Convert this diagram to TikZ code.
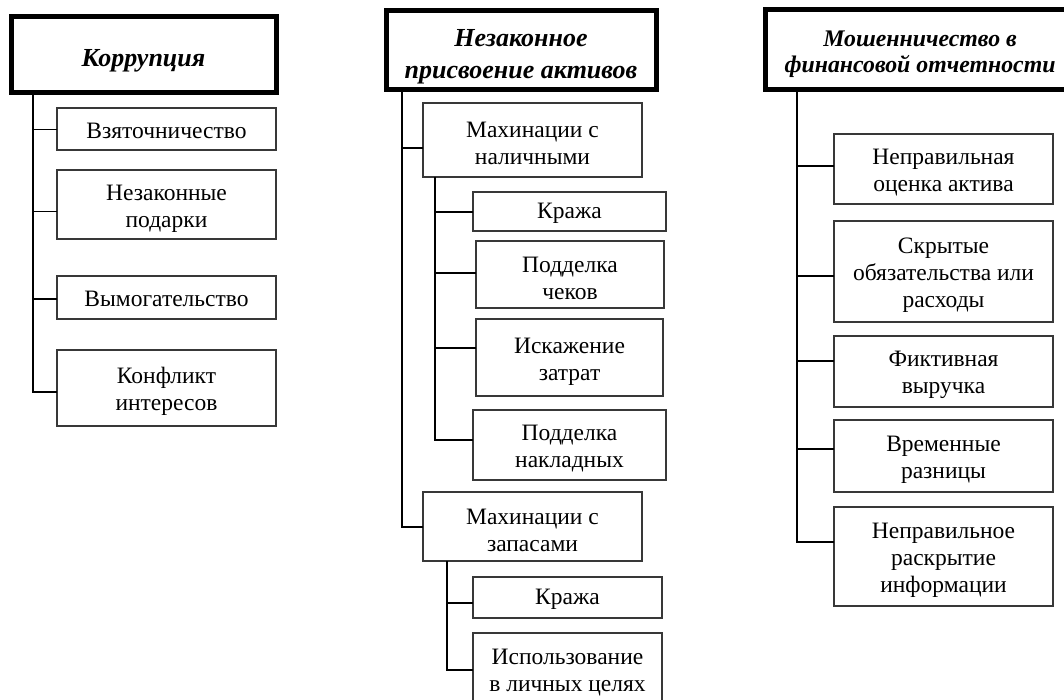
\documentclass[tikz,border=0pt]{standalone}
\usepackage{fontspec}
\setmainfont{Liberation Serif}
\newcommand\hstrut[1]{\rule{0pt}{#1}}
\tikzset{
  box/.style={draw=black!78, line width=2.6pt, fill=white, inner sep=0pt, outer sep=0pt,
    align=center, font=\fontsize{23.5}{27}\selectfont},
  head/.style={draw=black, line width=5pt, fill=white, inner sep=0pt, outer sep=0pt,
    align=center, font=\fontsize{26}{32}\selectfont\bfseries\itshape},
  link/.style={draw=black, line width=1.4pt}
}
\begin{document}
\begin{tikzpicture}[x=1pt,y=-1pt]
\useasboundingbox (0,0) rectangle (1064,700);
% Column 1
\node[head, minimum width=265pt, minimum height=76pt] (h1) at (143.5,55) {\hstrut{29pt}Коррупция};
\node[box, minimum width=219pt, minimum height=42pt] (a1) at (166.5,129) {\hstrut{19pt}Взяточничество};
\node[box, minimum width=219pt, minimum height=69pt] (a2) at (166.5,204.5) {\hstrut{24pt}Незаконные\\подарки};
\node[box, minimum width=219pt, minimum height=43pt] (a3) at (166.5,297.5) {\hstrut{19pt}Вымогательство};
\node[box, minimum width=219pt, minimum height=76pt] (a4) at (166.5,388) {\hstrut{23pt}Конфликт\\интересов};
\coordinate (t1) at (33,93);
\coordinate (pa1) at ([yshift=-0.5pt]a1.west);
\coordinate (pa2) at ([yshift=-7pt]a2.west);
\coordinate (pa3) at ([yshift=-1.5pt]a3.west);
\coordinate (pa4) at ([yshift=-4pt]a4.west);
\draw[link] (t1) |- (pa4);
\draw[link] (pa1) -- (pa1 -| t1);
\draw[link] (pa2) -- (pa2 -| t1);
\draw[link] (pa3) -- (pa3 -| t1);
% Column 2
\node[head, minimum width=270pt, minimum height=79pt] (h2) at (521,50.5) {\hstrut{29pt}Незаконное\\присвоение активов};
\node[box, minimum width=219pt, minimum height=74pt] (m1) at (532.5,140) {\hstrut{23pt}Махинации с\\наличными};
\node[box, minimum width=193pt, minimum height=39pt] (k1) at (569.5,211.5) {\hstrut{19pt}Кража};
\node[box, minimum width=188pt, minimum height=67pt] (p1) at (570,274.5) {\hstrut{23pt}Подделка\\чеков};
\node[box, minimum width=187pt, minimum height=77pt] (i1) at (569.5,357.5) {\hstrut{23pt}Искажение\\затрат};
\node[box, minimum width=193pt, minimum height=70pt] (n1) at (569.5,445) {\hstrut{23pt}Подделка\\накладных};
\node[box, minimum width=219pt, minimum height=69pt] (m2) at (532.5,526.5) {\hstrut{23pt}Махинации с\\запасами};
\node[box, minimum width=189pt, minimum height=41pt] (k2) at (567.5,597.5) {\hstrut{19pt}Кража};
\node[box, minimum width=189pt, minimum height=72pt] (u1) at (567.5,669) {\hstrut{23pt}Использование\\в личных целях};
\coordinate (t2) at (402,90);
\coordinate (t3) at (435,177);
\coordinate (t4) at (447,561);
\coordinate (pm1) at ([yshift=-8pt]m1.west);
\coordinate (pm2) at ([yshift=-0.5pt]m2.west);
\coordinate (pk1) at ([yshift=-0.5pt]k1.west);
\coordinate (pp1) at ([yshift=1.5pt]p1.west);
\coordinate (pi1) at ([yshift=9.5pt]i1.west);
\coordinate (pn1) at ([yshift=5pt]n1.west);
\coordinate (pk2) at ([yshift=-5.5pt]k2.west);
\coordinate (pu1) at ([yshift=-1pt]u1.west);
\draw[link] (t2) |- (pm2);
\draw[link] (pm1) -- (pm1 -| t2);
\draw[link] (t3) |- (pn1);
\draw[link] (pk1) -- (pk1 -| t3);
\draw[link] (pp1) -- (pp1 -| t3);
\draw[link] (pi1) -- (pi1 -| t3);
\draw[link] (t4) |- (pu1);
\draw[link] (pk2) -- (pk2 -| t4);
% Column 3
\node[head, minimum width=310pt, minimum height=80pt, font=\fontsize{23.8}{25.5}\selectfont\bfseries\itshape] (h3) at (920,50) {\hstrut{24pt}Мошенничество в\\финансовой отчетности};
\node[box, minimum width=219pt, minimum height=70pt] (f1) at (943.5,169) {\hstrut{23pt}Неправильная\\оценка актива};
\node[box, minimum width=219pt, minimum height=101pt] (f2) at (943.5,271.5) {\hstrut{23pt}Скрытые\\обязательства или\\расходы};
\node[box, minimum width=219pt, minimum height=71pt] (f3) at (943.5,371.5) {\hstrut{23pt}Фиктивная\\выручка};
\node[box, minimum width=219pt, minimum height=72pt] (f4) at (943.5,456) {\hstrut{23pt}Временные\\разницы};
\node[box, minimum width=219pt, minimum height=99pt] (f5) at (943.5,556.5) {\hstrut{23pt}Неправильное\\раскрытие\\информации};
\coordinate (t5) at (797,90);
\coordinate (pf1) at ([yshift=3pt]f1.west);
\coordinate (pf2) at ([yshift=-4.5pt]f2.west);
\coordinate (pf3) at ([yshift=10.5pt]f3.west);
\coordinate (pf4) at ([yshift=7pt]f4.west);
\coordinate (pf5) at ([yshift=14.5pt]f5.west);
\draw[link] (t5) |- (pf5);
\draw[link] (pf1) -- (pf1 -| t5);
\draw[link] (pf2) -- (pf2 -| t5);
\draw[link] (pf3) -- (pf3 -| t5);
\draw[link] (pf4) -- (pf4 -| t5);
\end{tikzpicture}
\end{document}
